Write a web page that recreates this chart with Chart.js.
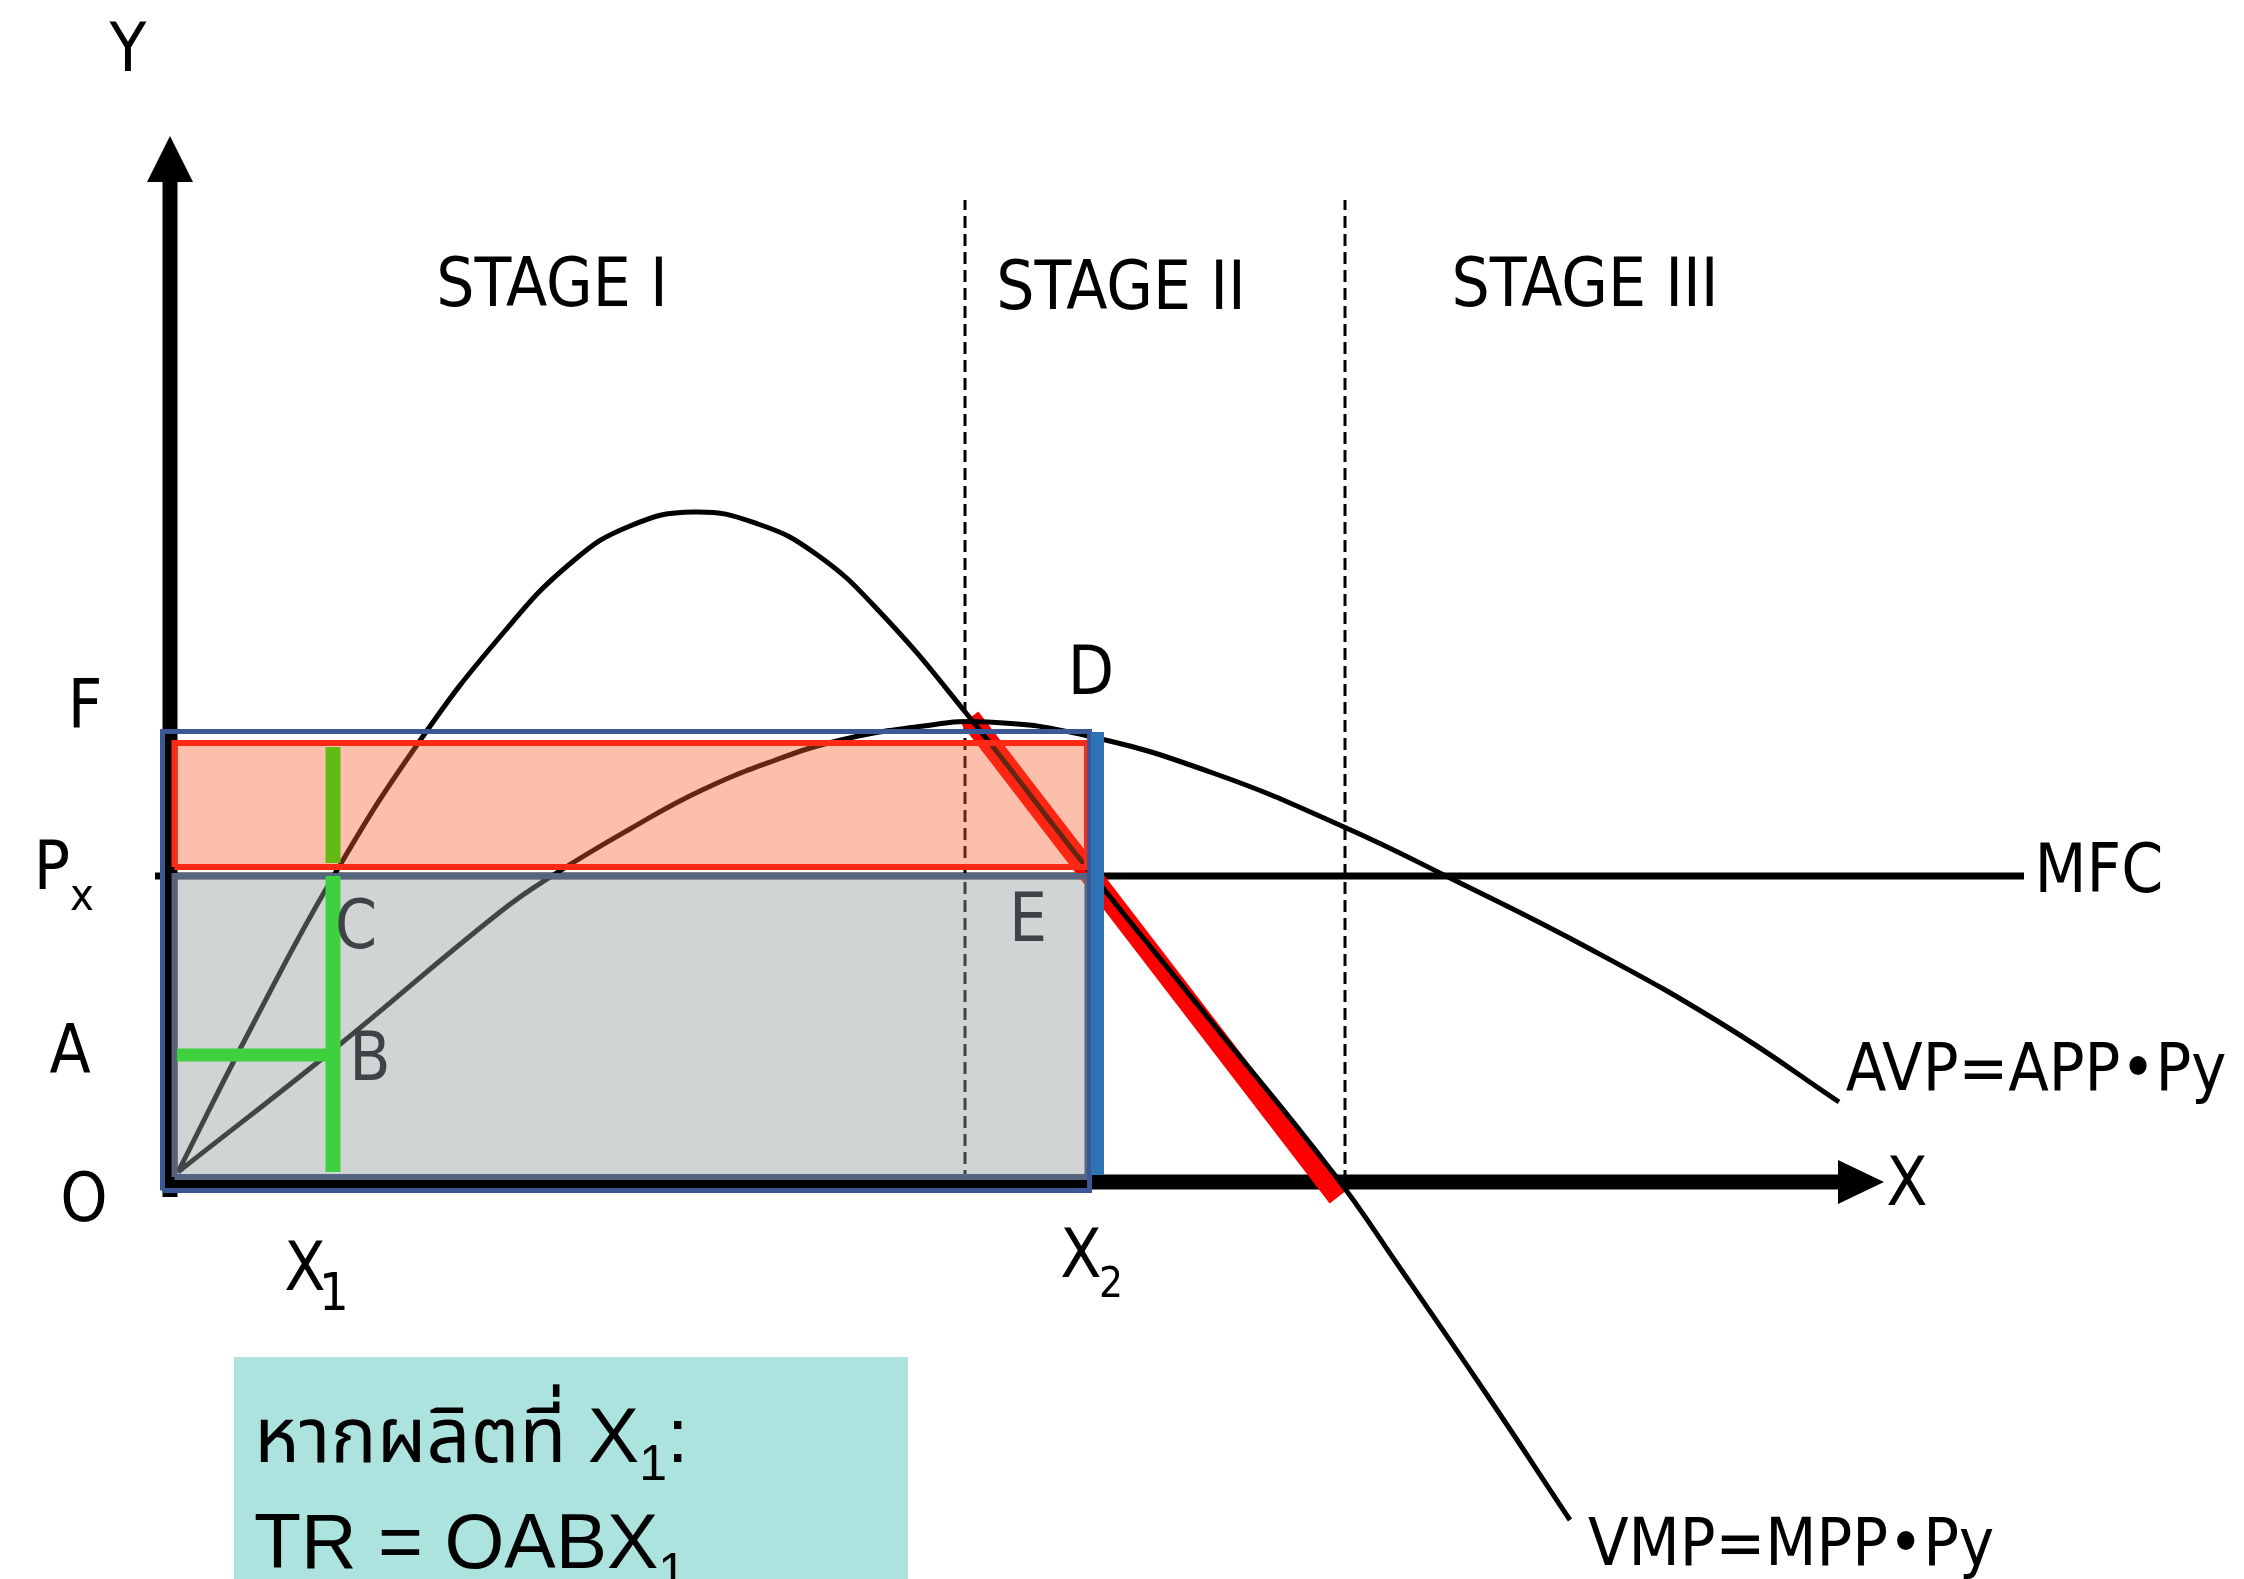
<!DOCTYPE html>
<html>
<head>
<meta charset="utf-8">
<script src="https://cdn.jsdelivr.net/npm/chart.js@4.4.0/dist/chart.umd.min.js"></script>
<style>
html, body { margin: 0; padding: 0; background: #fff; overflow: hidden; }
canvas { display: block; }
</style>
</head>
<body>
<canvas id="etapasChart" width="2244" height="1579"></canvas>
<script>
// ========== DATA ==========

// VMP = MPP·Py curve
const vmpX = [0.08, 0.80, 1.63, 2.49, 3.34, 4.02, 4.60, 5.24, 5.88, 6.46, 7.08, 7.96, 9.17, 10.40, 11.64, 12.30, 13.15, 14.00];
const vmpY = [0.10, 1.52, 3.05, 4.40, 5.50, 6.20, 6.56, 6.70, 6.58, 6.28, 5.72, 4.69, 3.14, 1.62, 0.08, -0.86, -2.10, -3.38];

// AVP = APP·Py curve
const avpX = [0.08, 1.63, 3.30, 3.85, 4.60, 5.30, 6.03, 6.67, 7.46, 8.18, 9.18, 10.43, 11.74, 12.78, 14.22, 15.57, 16.69];
const avpY = [0.10, 1.32, 2.70, 3.08, 3.53, 3.91, 4.21, 4.41, 4.55, 4.60, 4.46, 4.09, 3.55, 3.05, 2.32, 1.55, 0.80];

// MFC = Px (horizontal)
const mfcX = [-0.15, 18.54];
const pricePx = 3.06;

// stage dividers
const stageNames = ['STAGE I', 'STAGE II', 'STAGE III'];
const stageBounds = [7.95, 11.75];
const stageTop = 9.82;

// marked levels
const inputX1 = 1.63;
const inputX2 = 9.18;
const levelA = 1.27;
const levelF = 4.39;

// highlighted segment of VMP (stage II)
const redX = [8.00, 11.68];
const redY = [4.64, -0.15];

// areas
const grayX = [0.045, 9.175];
const grayY = [0.05, pricePx];
const salmonX = [0.045, 9.17];
const salmonY = [3.15, levelF];
const frameX = [-0.075, 9.195];
const frameY = [-0.085, 4.505];
const barY = [0.07, 4.50];
const barX = 9.275;

// axes extent
const axisXEnd = 16.68;
const axisYEnd = 10;

// ========== HELPERS ==========
function zip(xs, ys) {
    return xs.map((x, i) => ({ x: x, y: ys[i] }));
}

function rect(xs, ys) {
    return [
        { x: xs[0], y: ys[0] }, { x: xs[1], y: ys[0] },
        { x: xs[1], y: ys[1] }, { x: xs[0], y: ys[1] },
        { x: xs[0], y: ys[0] }
    ];
}

const labelFont = "'DejaVu Sans Condensed', 'DejaVu Sans', sans-serif";
const boxFont = "'Liberation Sans', Arial, 'Noto Sans Thai', 'Loma', 'Garuda', sans-serif";

function texto(ctx, str, x, y, size, color, align, family) {
    ctx.font = size + 'px ' + (family || labelFont);
    ctx.fillStyle = color || '#000';
    ctx.textAlign = align || 'center';
    ctx.textBaseline = 'alphabetic';
    ctx.fillText(str, x, y);
}

// ========== PLUGINS ==========
const ejesPlugin = {
    id: 'ejes',
    beforeDatasetsDraw(chart) {
        const ctx = chart.ctx;
        const xs = chart.scales.x, ys = chart.scales.y;
        const x0 = xs.getPixelForValue(0), y0 = ys.getPixelForValue(0);
        const xe = xs.getPixelForValue(axisXEnd), ye = ys.getPixelForValue(axisYEnd);
        ctx.save();
        ctx.fillStyle = '#000';
        ctx.strokeStyle = '#000';
        ctx.lineWidth = 15;
        ctx.beginPath();
        ctx.moveTo(x0, y0 + 15);
        ctx.lineTo(x0, ye);
        ctx.moveTo(x0 - 8, y0);
        ctx.lineTo(xe, y0);
        ctx.stroke();
        // arrow heads
        ctx.beginPath();
        ctx.moveTo(x0 - 23, ye);
        ctx.lineTo(x0 + 23, ye);
        ctx.lineTo(x0, ye - 46);
        ctx.closePath();
        ctx.fill();
        ctx.beginPath();
        ctx.moveTo(xe, y0 - 22);
        ctx.lineTo(xe, y0 + 22);
        ctx.lineTo(xe + 46, y0);
        ctx.closePath();
        ctx.fill();
        ctx.restore();
    }
};

const etiquetasPlugin = {
    id: 'etiquetas',
    afterDatasetsDraw(chart) {
        const ctx = chart.ctx;
        ctx.save();
        // axis names
        texto(ctx, 'Y', 128, 71, 67);
        texto(ctx, 'X', 1907, 1205, 67);
        // levels on the y axis
        texto(ctx, 'F', 85, 728, 67);
        texto(ctx, 'P', 52, 889, 67);
        texto(ctx, 'x', 82, 910, 45);
        texto(ctx, 'A', 70, 1073, 67);
        texto(ctx, 'O', 84, 1221, 67);
        // inputs on the x axis
        texto(ctx, 'X', 305, 1290, 67);
        texto(ctx, '1', 334, 1310, 52);
        texto(ctx, 'X', 1081, 1277, 67);
        texto(ctx, '2', 1111, 1297, 42);
        // points
        texto(ctx, 'D', 1091, 694, 67);
        texto(ctx, 'C', 356, 948, 67, '#3f4345');
        texto(ctx, 'B', 370, 1080, 67, '#3f4345');
        texto(ctx, 'E', 1028, 941, 67, '#3f4345');
        // stages
        texto(ctx, stageNames[0], 552, 306, 67);
        texto(ctx, stageNames[1], 1121, 309, 67);
        texto(ctx, stageNames[2], 1585, 306, 67);
        // curve names
        texto(ctx, 'MFC', 2099, 892, 67);
        texto(ctx, 'AVP=APP\u2022Py', 2036, 1090, 66);
        texto(ctx, 'VMP=MPP\u2022Py', 1791, 1565, 66);
        ctx.restore();
    },
    afterDraw(chart) {
        const ctx = chart.ctx;
        ctx.save();
        ctx.fillStyle = '#ace3de';
        ctx.fillRect(234, 1357, 674, 222);
        ctx.font = '77px ' + boxFont;
        ctx.fillStyle = '#000';
        ctx.textAlign = 'left';
        let x = 254;
        const l1 = 'หากผลิตที่ X';
        ctx.fillText(l1, x, 1462);
        x += ctx.measureText(l1).width;
        ctx.font = '50px ' + boxFont;
        ctx.fillText('1', x, 1480);
        x += ctx.measureText('1').width;
        ctx.font = '77px ' + boxFont;
        ctx.fillText(':', x, 1462);
        x = 254;
        const l2 = 'TR = OABX';
        ctx.fillText(l2, x, 1568);
        x += ctx.measureText(l2).width;
        ctx.font = '50px ' + boxFont;
        ctx.fillText('1', x, 1588);
        ctx.restore();
    }
};

// ========== CHART ==========
function dibujarEtapas() {
    const ctx = document.getElementById('etapasChart').getContext('2d');

    const linea = (data, color, width, order, extra) => Object.assign({
        data: data,
        showLine: true,
        fill: false,
        borderColor: color,
        borderWidth: width,
        pointRadius: 0,
        tension: 0,
        clip: false,
        order: order
    }, extra || {});

    const datasets = [
        linea([{ x: barX, y: barY[0] }, { x: barX, y: barY[1] }], '#2e74b5', 13, 0),
        linea(rect(frameX, frameY), '#3a5896', 5, 1, { borderJoinStyle: 'miter' }),
        // green guide above Px, seen through the salmon area
        linea([{ x: inputX1, y: salmonY[0] + 0.04 }, { x: inputX1, y: 4.35 }], '#62bb12', 15, 1),
        linea(rect(salmonX, salmonY), '#ff2a14', 6, 2,
            { fill: 'shape', backgroundColor: 'rgba(248,95,45,0.4)', borderJoinStyle: 'miter' }),
        linea([{ x: inputX1, y: 0.10 }, { x: inputX1, y: pricePx }], '#3dd13d', 15, 3),
        linea([{ x: 0.07, y: levelA }, { x: inputX1, y: levelA }], '#3dd13d', 13, 3),
        linea(rect(grayX, grayY), '#56657f', 6, 4,
            { fill: 'shape', backgroundColor: 'rgba(147,156,159,0.44)', borderJoinStyle: 'miter' }),
        linea(zip(vmpX, vmpY), '#000', 5, 5, { tension: 0.45 }),
        linea(zip(avpX, avpY), '#000', 5, 6, { tension: 0.45 }),
        linea(zip(redX, redY), '#ff0000', 21, 7, { borderCapStyle: 'butt' }),
        linea(mfcX.map(x => ({ x: x, y: pricePx })), '#000', 7, 8),
        linea([{ x: stageBounds[0], y: 0 }, { x: stageBounds[0], y: stageTop }], '#000', 3, 9, { borderDash: [12, 6] }),
        linea([{ x: stageBounds[1], y: 0 }, { x: stageBounds[1], y: stageTop }], '#000', 3, 9, { borderDash: [12, 6] })
    ];

    return new Chart(ctx, {
        type: 'scatter',
        data: { datasets: datasets },
        options: {
            responsive: false,
            animation: false,
            events: [],
            layout: { padding: { left: 170, right: 174, top: 182, bottom: 397 } },
            scales: {
                x: { type: 'linear', min: 0, max: 19, display: false },
                y: { type: 'linear', min: 0, max: 10, display: false }
            },
            plugins: {
                legend: { display: false },
                tooltip: { enabled: false }
            }
        },
        plugins: [ejesPlugin, etiquetasPlugin]
    });
}

dibujarEtapas();
</script>
</body>
</html>
